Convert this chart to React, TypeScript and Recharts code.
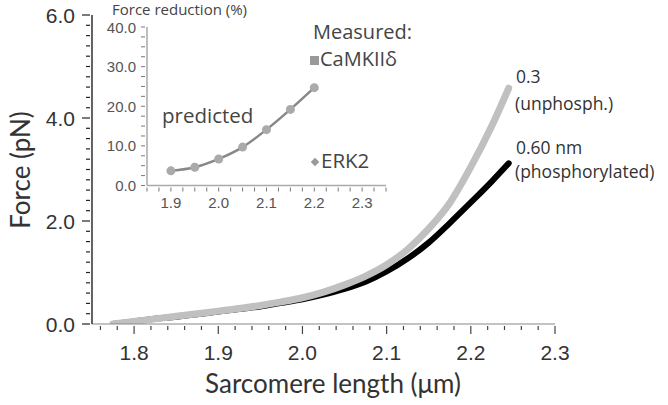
import React from "react";
import { ComposedChart, LineChart, Line, XAxis, YAxis } from "recharts";

// Main chart data: sarcomere length (µm) vs passive force (pN)
const sarcomereLength = [1.775, 1.8, 1.825, 1.85, 1.875, 1.9, 1.925, 1.95, 1.975, 2.0, 2.025, 2.05, 2.075, 2.1, 2.125, 2.15, 2.175, 2.2, 2.225, 2.245];
const forceUnphosph = [0.0, 0.05, 0.1, 0.15, 0.2, 0.25, 0.3, 0.36, 0.43, 0.51, 0.62, 0.76, 0.93, 1.15, 1.45, 1.85, 2.35, 3.05, 3.85, 4.58];
const forcePhosph = [0.0, 0.05, 0.1, 0.14, 0.19, 0.24, 0.29, 0.34, 0.41, 0.48, 0.57, 0.68, 0.82, 1.02, 1.27, 1.58, 1.96, 2.36, 2.77, 3.12];

// Inset data: predicted force reduction (%)
const insetLength = [1.9, 1.95, 2.0, 2.05, 2.1, 2.15, 2.2];
const forceReduction = [3.7, 4.6, 6.7, 9.7, 14.1, 19.2, 24.7];

// Tick labels
const mainXLabels = [1.8, 1.9, 2.0, 2.1, 2.2, 2.3];
const mainYLabels = [0, 2, 4, 6];
const insetXLabels = [1.9, 2.0, 2.1, 2.2, 2.3];
const insetYLabels = [0, 10, 20, 30, 40];

const range = (a: number, b: number, step: number) => {
  const out: number[] = [];
  const n = Math.round((b - a) / step);
  for (let i = 0; i <= n; i++) out.push(Number((a + i * step).toFixed(4)));
  return out;
};
const has = (arr: number[], v: number) => arr.some((t) => Math.abs(t - v) < 1e-6);

const mainXTicks = range(1.76, 2.3, 0.02);
const mainYTicks = range(0, 6, 0.2);
const insetXTicks = range(1.85, 2.35, 0.025);
const insetYTicks = range(0, 40, 2.5);

const mainData = sarcomereLength.map((x, i) => ({ x, unphosph: forceUnphosph[i], phosph: forcePhosph[i] }));
const insetData = insetLength.map((x, i) => ({ x, red: forceReduction[i] }));

const TICK_FONT = "'Liberation Sans', Arial, sans-serif";
const TITLE_FONT = "Lato, 'Open Sans', sans-serif";
const NOTE_FONT = "'Open Sans', Lato, sans-serif";

const MainXTick = (props: any) => {
  const { x, y, payload } = props;
  const v = payload.value;
  const major = has(mainXLabels, v);
  return (
    <g>
      <line x1={x} x2={x} y1={y} y2={y + (major ? 8 : 4)} stroke="#444" strokeWidth={1.2} />
      {major && (
        <text x={x} y={y + 34} textAnchor="middle" fontSize={21} fontFamily={TICK_FONT} fill="#333">
          {v.toFixed(1)}
        </text>
      )}
    </g>
  );
};

const MainYTick = (props: any) => {
  const { x, y, payload } = props;
  const v = payload.value;
  const major = has(mainYLabels, v);
  return (
    <g>
      <line x1={x} x2={x - (major ? 8 : 4)} y1={y} y2={y} stroke="#222" strokeWidth={1.2} />
      {major && (
        <text x={x - 15} y={y + 7.5} textAnchor="end" fontSize={21} fontFamily={TICK_FONT} fill="#333">
          {v.toFixed(1)}
        </text>
      )}
    </g>
  );
};

const InsetXTick = (props: any) => {
  const { x, y, payload } = props;
  const v = payload.value;
  const major = has(insetXLabels, v);
  return (
    <g>
      <line x1={x} x2={x} y1={y} y2={y + 4} stroke="#777" strokeWidth={1} />
      {major && (
        <text x={x} y={y + 20} textAnchor="middle" fontSize={15} fontFamily={TICK_FONT} fill="#555">
          {v.toFixed(1)}
        </text>
      )}
    </g>
  );
};

const InsetYTick = (props: any) => {
  const { x, y, payload } = props;
  const v = payload.value;
  const major = has(insetYLabels, v);
  return (
    <g>
      <line x1={x} x2={x - 4} y1={y} y2={y} stroke="#777" strokeWidth={1} />
      {major && (
        <text x={x - 9} y={y + 5.5} textAnchor="end" fontSize={15} fontFamily={TICK_FONT} fill="#555">
          {v.toFixed(1)}
        </text>
      )}
    </g>
  );
};

export default function App() {
  return (
    <div style={{ position: "absolute", left: 0, top: 0, width: 668, height: 405, background: "#fff", overflow: "hidden" }}>
      <div style={{ position: "absolute", left: 0, top: 0 }}>
        <ComposedChart width={668} height={405} data={mainData} margin={{ top: 15, right: 113, bottom: 31, left: 0 }}>
          <XAxis
            dataKey="x"
            type="number"
            domain={[1.75, 2.3]}
            ticks={mainXTicks}
            interval={0}
            tick={<MainXTick />}
            tickSize={0}
            tickLine={false}
            height={50}
            axisLine={{ stroke: "#888", strokeWidth: 1.2 }}
            allowDataOverflow
          />
          <YAxis
            type="number"
            domain={[0, 6]}
            ticks={mainYTicks}
            interval={0}
            tick={<MainYTick />}
            tickSize={0}
            tickLine={false}
            width={92}
            axisLine={{ stroke: "#222", strokeWidth: 1.4 }}
            allowDataOverflow
          />
          <Line dataKey="phosph" type="monotone" stroke="#000" strokeWidth={6} strokeLinecap="round" dot={false} isAnimationActive={false} />
          <Line dataKey="unphosph" type="monotone" stroke="#c0c0c0" strokeWidth={7} strokeLinecap="round" dot={false} isAnimationActive={false} />
        </ComposedChart>
      </div>
      <div style={{ position: "absolute", left: 100, top: 0 }}>
        <LineChart width={300} height={215} data={insetData} margin={{ top: 27, right: 14, bottom: 4.5, left: 0 }}>
          <XAxis
            dataKey="x"
            type="number"
            domain={[1.85, 2.35]}
            ticks={insetXTicks}
            interval={0}
            tick={<InsetXTick />}
            tickSize={0}
            tickLine={false}
            height={25}
            axisLine={{ stroke: "#aaa", strokeWidth: 1.5 }}
            allowDataOverflow
          />
          <YAxis
            type="number"
            domain={[0, 40]}
            ticks={insetYTicks}
            interval={0}
            tick={<InsetYTick />}
            tickSize={0}
            tickLine={false}
            width={47}
            axisLine={{ stroke: "#aaa", strokeWidth: 1.5 }}
            allowDataOverflow
          />
          <Line
            dataKey="red"
            type="monotone"
            stroke="#888"
            strokeWidth={2.5}
            dot={{ r: 4.5, fill: "#aaa", stroke: "none" }}
            isAnimationActive={false}
          />
        </LineChart>
      </div>
      <svg width={668} height={405} style={{ position: "absolute", left: 0, top: 0, pointerEvents: "none" }}>
        <text x={333} y={393} textAnchor="middle" fontSize={26} fontFamily={TITLE_FONT} fill="#333">
          Sarcomere length (μm)
        </text>
        <text transform="translate(30,170) rotate(-90)" textAnchor="middle" fontSize={26} fontFamily={TITLE_FONT} fill="#333">
          Force (pN)
        </text>
        <text x={112} y={15} fontSize={15} fontFamily={NOTE_FONT} fill="#444">
          Force reduction (%)
        </text>
        <text x={162} y={123} fontSize={20.5} fontFamily={NOTE_FONT} fill="#444">
          predicted
        </text>
        <text x={313} y={39} fontSize={20} fontFamily={NOTE_FONT} fill="#444">
          Measured:
        </text>
        <rect x={310} y={56} width={9} height={9} fill="#999" />
        <text x={320} y={66} fontSize={20} fontFamily={NOTE_FONT} fill="#444">
          CaMKIIδ
        </text>
        <rect x={312} y={159} width={6} height={6} fill="#999" transform="rotate(45 315 162)" />
        <text x={321} y={168} fontSize={20.5} fontFamily={NOTE_FONT} fill="#444">
          ERK2
        </text>
        <text x={516} y={83} fontSize={17.5} fontFamily={NOTE_FONT} fill="#333">
          0.3
        </text>
        <text x={515} y={110} fontSize={17.5} fontFamily={NOTE_FONT} fill="#333">
          (unphosph.)
        </text>
        <text x={516} y={154} fontSize={17.5} fontFamily={NOTE_FONT} fill="#333">
          0.60 nm
        </text>
        <text x={515} y={178} fontSize={17.5} fontFamily={NOTE_FONT} fill="#333">
          (phosphorylated)
        </text>
      </svg>
    </div>
  );
}
